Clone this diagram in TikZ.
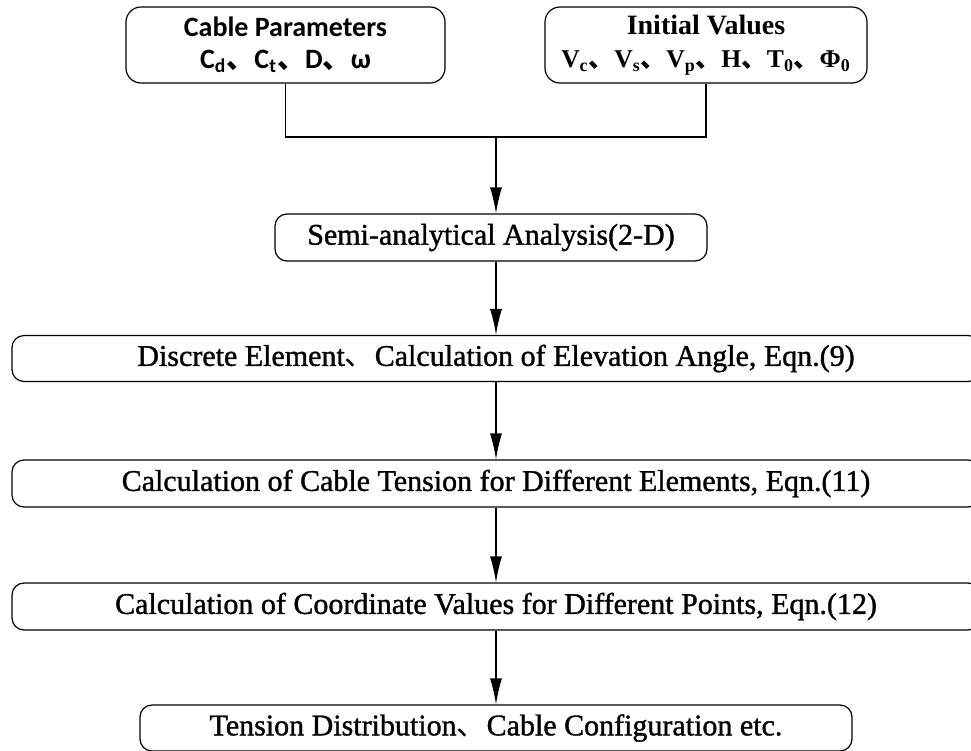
\documentclass[tikz,border=0pt]{standalone}
\usepackage{fontspec}
\setmainfont{Liberation Serif}
\newfontfamily\cjk{Noto Sans CJK SC}
\newfontfamily\paramfont{Carlito}
\newfontfamily\flowfont[FakeBold=1.2]{Liberation Serif}
\usetikzlibrary{arrows.meta}

% Chinese enumeration comma
\newcommand{\dunhao}{{\cjk 、}}

\begin{document}
\begin{tikzpicture}[x=0.5pt, y=-0.5pt,
  topbox/.style={draw, line width=0.6pt, rounded corners=7.5pt, align=center, inner sep=0pt},
  flowbox/.style={draw, line width=0.6pt, rounded corners=6pt, inner sep=0pt,
    minimum height=23pt, font=\flowfont\fontsize{15}{18}\selectfont},
  flowline/.style={line width=0.6pt},
  flowarrow/.style={line width=0.6pt, -{Latex[length=13pt, width=6pt]}}]

% Frame of the picture, the wide boxes run past its right edge
\useasboundingbox (0,0) rectangle (971,751);
\clip (0,0) rectangle (971,751);

% Input boxes
\node[topbox, minimum width=159.5pt, minimum height=38pt,
  font=\paramfont\bfseries\fontsize{14}{16}\selectfont] (cable) at (285.5,45)
  {Cable Parameters\\C\textsubscript{d}\dunhao C\textsubscript{t}\dunhao D\dunhao ω};
\node[topbox, minimum width=161pt, minimum height=38pt,
  font=\bfseries\fontsize{14}{16.5}\selectfont] (init) at (706,45)
  {Initial Values\\{\fontsize{12.8}{16.5}\selectfont V\textsubscript{c}\dunhao V\textsubscript{s}\dunhao
  V\textsubscript{p}\dunhao H\dunhao T\textsubscript{0}\dunhao Φ\textsubscript{0}}};

% Join of the two inputs
\coordinate (join) at (496,137);
\draw[flowline] (cable.south) |- (join) -| (init.south);

% Steps of the analysis
\node[flowbox, minimum width=216pt, minimum height=23.5pt] (semi) at (491,237.5)
  {Semi-analytical Analysis(2-D)};
\node[flowbox, minimum width=484pt] (disc) at (496,358.5)
  {Discrete Element\dunhao Calculation of Elevation Angle, Eqn.(9)};
\node[flowbox, minimum width=484pt, minimum height=23.5pt] (tens) at (496,483.5)
  {Calculation of Cable Tension for Different Elements, Eqn.(11)};
\node[flowbox, minimum width=484pt, minimum height=23.5pt] (coord) at (496,606.5)
  {Calculation of Coordinate Values for Different Points, Eqn.(12)};
\node[flowbox, minimum width=356pt] (final) at (496,728)
  {Tension Distribution\dunhao Cable Configuration etc.};

% Arrows between the steps
\draw[flowarrow] (join) -- (join |- semi.north);
\draw[flowarrow] (disc.north |- semi.south) -- (disc.north);
\draw[flowarrow] (disc.south) -- (tens.north);
\draw[flowarrow] (tens.south) -- (coord.north);
\draw[flowarrow] (coord.south) -- (final.north);
\end{tikzpicture}
\end{document}
